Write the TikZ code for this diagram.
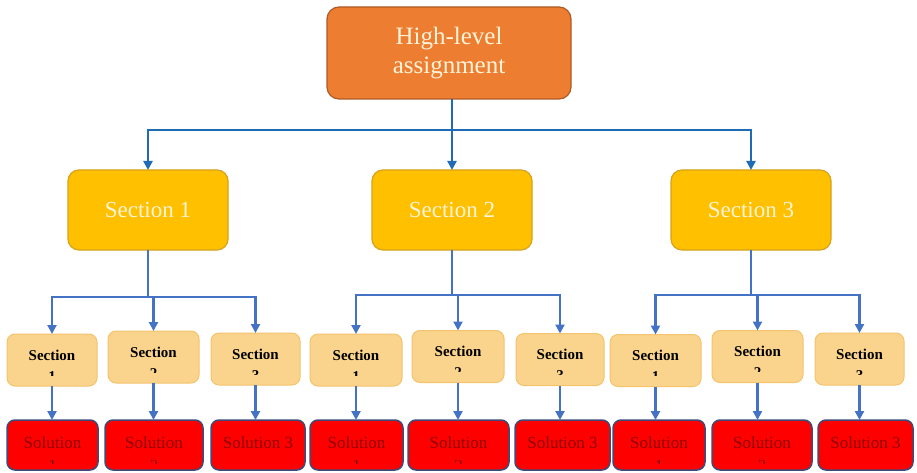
\documentclass[tikz,border=0pt]{standalone}
\usepackage{fontspec}
\setmainfont{Liberation Serif}
\usetikzlibrary{arrows.meta}

\definecolor{topfill}{HTML}{ED7D31}
\definecolor{topline}{HTML}{AE5A24}
\definecolor{secfill}{HTML}{FFC000}
\definecolor{secline}{HTML}{D7A21A}
\definecolor{subfill}{HTML}{FAD48D}
\definecolor{subline}{HTML}{F3C46C}
\definecolor{solfill}{HTML}{FF0000}
\definecolor{solline}{HTML}{3E4A78}
\definecolor{soltext}{HTML}{8E0000}
\definecolor{mainblue}{HTML}{1F6BB5}
\definecolor{subblue}{HTML}{4472C4}
\definecolor{paletext}{HTML}{FFF4D8}

\tikzset{
  topbox/.style={draw=topline, line width=1.2pt, fill=topfill, rounded corners=12pt,
    minimum width=244pt, minimum height=92pt, inner sep=0pt, outer sep=0pt,
    align=center, text=paletext, font=\fontsize{25}{31}\selectfont},
  secbox/.style={draw=secline, line width=1.2pt, fill=secfill, rounded corners=11pt,
    minimum width=160pt, minimum height=80pt, inner sep=0pt, outer sep=0pt,
    text=paletext, font=\fontsize{23}{28}\selectfont},
  subbox/.style={draw=subline, line width=1pt, fill=subfill, rounded corners=8pt,
    minimum height=52pt, inner sep=0pt, outer sep=0pt},
  subtxt/.style={inner sep=0pt, font=\bfseries\fontsize{15}{18}\selectfont, text=black},
  solbox/.style={draw=solline, line width=1.5pt, fill=solfill, rounded corners=8pt,
    minimum height=50pt, inner sep=0pt, outer sep=0pt},
  soltxt/.style={inner sep=0pt, font=\fontsize{17}{20}\selectfont, text=soltext},
  mainarrow/.style={draw=mainblue, line width=2.4pt,
    -{Triangle[width=9pt,length=9pt]}},
  subarrow/.style={draw=subblue, line width=2.2pt,
    -{Triangle[width=9pt,length=9pt]}},
}

% A light sub-section box: "Section" on the first line, only the top of
% the second line showing above the clipped lower edge.
\newcommand\sectionbox[5]{% name, x, y, width, second line
  \node[subbox, minimum width=#4] (#1) at (#2,#3) {};
  \node[subtxt] (#1t) at ([yshift=-21pt]#1.north) {Section};
  \begin{scope}
    \clip ([xshift=-20pt,yshift=-37pt]#1.north) rectangle ([xshift=20pt,yshift=-41pt]#1.north);
    \node[subtxt, anchor=north] (#1d) at ([yshift=-37pt]#1.north) {#5};
  \end{scope}}

% A red solution box with a clipped second line.
\newcommand\solutionbox[5]{% name, x, width, first line, second line
  \node[solbox, minimum width=#3] (#1) at (#2,445) {};
  \node[soltxt] (#1t) at ([yshift=2pt]#1.center) {#4};
  \begin{scope}
    \clip ([xshift=-20pt,yshift=-40pt]#1.north) rectangle ([xshift=20pt,yshift=-43pt]#1.north);
    \node[soltxt, anchor=north] (#1d) at ([yshift=-40pt]#1.north) {#5};
  \end{scope}}

% A red solution box with a single line.
\newcommand\solutionone[4]{% name, x, width, text
  \node[solbox, minimum width=#3] (#1) at (#2,445) {};
  \node[soltxt] (#1t) at ([yshift=2pt]#1.center) {#4};}

\begin{document}
\begin{tikzpicture}[x=1pt, y=-1pt]
  \useasboundingbox (0,0) rectangle (917,473);
  \fill[white] (0,0) rectangle (917,473);

  % top level
  \node[topbox] (top) at (449,53) {High-level\\[-2pt]assignment};

  % sections
  \node[secbox] (sec1) at (148,210) {Section 1};
  \node[secbox] (sec2) at (452,210) {Section 2};
  \node[secbox] (sec3) at (751,210) {Section 3};

  % sub-sections
  \sectionbox{s11}{52}{360}{90pt}{1}
  \sectionbox{s12}{153.5}{357}{91pt}{2}
  \sectionbox{s13}{255.5}{359}{89pt}{3}
  \sectionbox{s21}{356}{360}{92pt}{1}
  \sectionbox{s22}{458}{356.5}{92pt}{2}
  \sectionbox{s23}{560}{359.5}{88pt}{3}
  \sectionbox{s31}{655.5}{360.5}{91pt}{1}
  \sectionbox{s32}{757.5}{356.5}{91pt}{2}
  \sectionbox{s33}{859.5}{359}{89pt}{3}

  % solutions
  \solutionbox{o11}{52.5}{91pt}{Solution}{1}
  \solutionbox{o12}{154}{98pt}{Solution}{2}
  \solutionone{o13}{258}{94pt}{Solution 3}
  \solutionbox{o21}{356.5}{93pt}{Solution}{1}
  \solutionbox{o22}{458.5}{101pt}{Solution}{2}
  \solutionone{o23}{562.5}{95pt}{Solution 3}
  \solutionbox{o31}{659}{92pt}{Solution}{1}
  \solutionbox{o32}{762}{100pt}{Solution}{2}
  \solutionone{o33}{865.5}{95pt}{Solution 3}

  % top-level branching
  \coordinate (jt) at (452,130);
  \draw[mainarrow] (top.south -| sec2.north) -- (sec2.north);
  \draw[mainarrow] (jt) -| (sec1.north);
  \draw[mainarrow] (jt) -| (sec3.north);

  % section branching
  \foreach \g/\y in {1/297,2/295,3/295}{
    \coordinate (j\g) at (sec\g.south |- 0,\y);
    \draw[subarrow] (sec\g.south) -- (j\g) -| (s\g2.north);
    \draw[subarrow] (j\g) -| (s\g1.north);
    \draw[subarrow] (j\g) -| (s\g3.north);
    \foreach \k in {1,2,3}{
      \draw[subarrow] (s\g\k.south) -- (s\g\k.south |- o\g\k.north);
    }
  }
\end{tikzpicture}
\end{document}
